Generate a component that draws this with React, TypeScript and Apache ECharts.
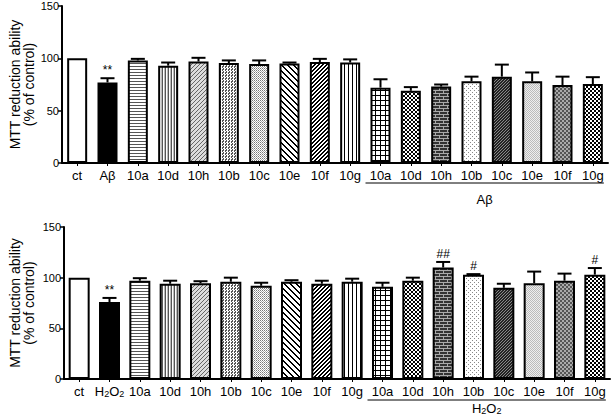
import React, { useEffect, useRef } from 'react';
import * as echarts from 'echarts';

// ---------- data ----------
const topCategories = ['ct', 'Aβ', '10a', '10d', '10h', '10b', '10c', '10e', '10f', '10g', '10a', '10d', '10h', '10b', '10c', '10e', '10f', '10g'];
const topValues = [100, 77, 98, 93, 97, 95.5, 94.5, 95, 96.5, 96, 72, 69, 73, 78, 82.5, 78, 74.5, 75.5];
const topErrors = [0, 4, 1.5, 3, 3.5, 2.5, 3.5, 1, 3, 3, 8, 3.5, 2, 4.5, 11.5, 8.5, 8, 6.5];
const topSig = ['', '**', '', '', '', '', '', '', '', '', '', '', '', '', '', '', '', ''];
const topGroupLabel = 'Aβ';

const botCategories = ['ct', 'H2O2', '10a', '10d', '10h', '10b', '10c', '10e', '10f', '10g', '10a', '10d', '10h', '10b', '10c', '10e', '10f', '10g'];
const botValues = [100, 76, 97, 94, 94.5, 96, 92, 96, 94, 96, 91, 97, 110, 103, 90, 94.5, 97, 103];
const botErrors = [0, 4, 2.5, 3, 2, 4, 3, 1.5, 3, 3, 4, 3, 5.5, 0.5, 4, 11.5, 7, 6.5];
const botSig = ['', '**', '', '', '', '', '', '', '', '', '', '', '##', '#', '', '', '', '#'];
const botGroupLabel = 'H2O2';

const groupStart = 10;
const groupEnd = 17;

const yTicks = [0, 50, 100, 150];
const yName = 'MTT reduction ability\n(% of control)';

// ---------- patterns ----------
const FONT = '"Liberation Sans", Arial, Helvetica, sans-serif';
const NARROW = '"Liberation Sans Narrow", "Liberation Sans", Arial, sans-serif';

type Pal = Record<string, string>;
function makePattern(rows: string[], pal: Pal): any {
  const h = rows.length;
  const w = rows[0].length;
  const c = document.createElement('canvas');
  c.width = w;
  c.height = h;
  const ctx = c.getContext('2d')!;
  for (let y = 0; y < h; y++) {
    for (let x = 0; x < w; x++) {
      const ch = rows[y][x];
      ctx.fillStyle = pal[ch] || '#ffffff';
      ctx.fillRect(x, y, 1, 1);
    }
  }
  return { image: c.toDataURL(), imageWidth: w, imageHeight: h, repeat: 'repeat' };
}

function buildFills(): any[] {
  const bw: Pal = { '#': '#000000', '.': '#ffffff' };
  return [
    '#ffffff',
    '#000000',
    makePattern(['#', '.', '.'], { '#': '#555555', '.': '#ffffff' }),
    makePattern(['#.g'], { '#': '#555555', '.': '#ffffff', g: '#bbbbbb' }),
    makePattern(['...#', '..#.', '.#..', '#...'], { '#': '#666666', '.': '#dddddd' }),
    makePattern(['##.', '#..', '.#.'], { '#': '#555555', '.': '#ffffff' }),
    makePattern(['#.', '.g'], { '#': '#777777', '.': '#ffffff', g: '#aaaaaa' }),
    makePattern(['##....', '.##...', '..##..', '...##.', '....##', '#....#'], bw),
    makePattern(['..##', '.##.', '##..', '#..#'], bw),
    makePattern(['#...'], bw),
    makePattern(['#####', '#....', '#....', '#....', '#....'], bw),
    makePattern(['#..#', '.##.', '.##.', '#..#'], bw),
    makePattern(['LLLLLLLL', 'DDDLDDDD', 'DDDLDDDD', 'LLLLLLLL', 'DDDDDDDL', 'DDDDDDDL'], { L: '#aaaaaa', D: '#333333' }),
    makePattern(['#...', '....', '..#.', '....'], { '#': '#888888', '.': '#ffffff' }),
    makePattern(['##.', '#.#', '.##'], { '#': '#222222', '.': '#888888' }),
    makePattern(['#.', '.#'], { '#': '#bbbbbb', '.': '#eeeeee' }),
    makePattern(['DDLL', 'DDLL', 'LLDD', 'LLDD'], { D: '#555555', L: '#aaaaaa' }),
    makePattern(['##..', '##..', '..##', '..##'], bw),
  ];
}

const richLabel = {
  n: { fontSize: 13, fontFamily: FONT, color: '#000', lineHeight: 14, verticalAlign: 'middle' },
  s: { fontSize: 9, fontFamily: FONT, color: '#000', lineHeight: 8, verticalAlign: 'bottom' },
};

function fmtCat(v: string): string {
  if (v === 'H2O2') return '{n|H}{s|2}{n|O}{s|2}';
  return '{n|' + v + '}';
}

function errorRender(sig: string[]) {
  return (params: any, api: any) => {
    const x = api.value(0);
    const v = api.value(1);
    const e = api.value(2);
    const base = api.coord([x, v]);
    const top = api.coord([x, v + e]);
    const half = 7;
    const children: any[] = [];
    if (e > 0) {
      children.push({
        type: 'line',
        shape: { x1: base[0], y1: base[1], x2: top[0], y2: top[1] },
        style: { stroke: '#000', lineWidth: 2 },
      });
      children.push({
        type: 'line',
        shape: { x1: top[0] - half, y1: top[1], x2: top[0] + half, y2: top[1] },
        style: { stroke: '#000', lineWidth: 2 },
      });
    }
    const s = sig[params.dataIndex];
    if (s) {
      children.push({
        type: 'text',
        x: top[0],
        y: top[1] - 2,
        style: {
          text: s,
          fill: '#000000',
          fontSize: 12,
          fontFamily: FONT,
          align: 'center',
          verticalAlign: 'bottom',
        },
      });
    }
    return { type: 'group', children };
  };
}

export default function App() {
  const ref = useRef<HTMLDivElement>(null);

  useEffect(() => {
    document.body.style.margin = '0';
    if (!ref.current) return;
    const chart = echarts.init(ref.current, undefined, { renderer: 'svg' });
    const fills = buildFills();

    const yAxisCommon = (gridIndex: number, gap: number) => ({
      type: 'value',
      gridIndex,
      min: 0,
      max: 150,
      interval: 50,
      name: yName,
      nameLocation: 'middle',
      nameRotate: 90,
      nameGap: gap,
      nameMoveOverlap: false,
      nameTextStyle: { fontSize: 14, lineHeight: 14, fontFamily: FONT, color: '#000' },
      axisLine: { show: true, lineStyle: { color: '#000', width: 2 } },
      axisTick: { show: true, length: 4, lineStyle: { color: '#000', width: 1.5 } },
      axisLabel: {
        fontSize: 11,
        fontFamily: NARROW,
        color: '#000',
        margin: 3,
        formatter: (v: number) => (yTicks.indexOf(v) >= 0 ? String(v) : ''),
      },
      splitLine: { show: false },
    });

    const xAxisCommon = (gridIndex: number, cats: string[]) => ({
      type: 'category',
      gridIndex,
      data: cats,
      axisLine: { show: true, lineStyle: { color: '#000', width: 2 } },
      axisTick: { show: true, alignWithLabel: true, length: 3, lineStyle: { color: '#000' } },
      axisLabel: {
        interval: 0,
        margin: 5,
        color: '#000',
        fontSize: 13,
        fontFamily: FONT,
        formatter: (v: string) => fmtCat(v),
        rich: richLabel,
      },
    });

    const barData = (vals: number[]) =>
      vals.map((v, i) => ({ value: v, itemStyle: { color: fills[i] } }));

    const errData = (vals: number[], errs: number[]) => vals.map((v, i) => [i, v, errs[i]]);

    chart.setOption({
      animation: false,
      grid: [
        { left: 62, right: 6, top: 6, height: 157 },
        { left: 52, right: 4, top: 227, height: 152 },
      ],
      xAxis: [xAxisCommon(0, topCategories), xAxisCommon(1, botCategories)],
      yAxis: [yAxisCommon(0, 26), yAxisCommon(1, 28)],
      series: [
        {
          type: 'bar',
          xAxisIndex: 0,
          yAxisIndex: 0,
          barWidth: 20,
          data: barData(topValues),
          itemStyle: { borderColor: '#000', borderWidth: 2 },
          z: 2,
        },
        {
          type: 'custom',
          xAxisIndex: 0,
          yAxisIndex: 0,
          data: errData(topValues, topErrors),
          encode: { x: 0, y: 1 },
          itemStyle: { color: '#000' },
          renderItem: errorRender(topSig),
          z: 3,
        },
        {
          type: 'bar',
          xAxisIndex: 1,
          yAxisIndex: 1,
          barWidth: 21,
          data: barData(botValues),
          itemStyle: { borderColor: '#000', borderWidth: 2 },
          z: 2,
        },
        {
          type: 'custom',
          xAxisIndex: 1,
          yAxisIndex: 1,
          data: errData(botValues, botErrors),
          encode: { x: 0, y: 1 },
          itemStyle: { color: '#000' },
          renderItem: errorRender(botSig),
          z: 3,
        },
      ],
    });

    const groupGraphic = (gridIndex: number, label: string, lineOff: number, textOff: number) => {
      const a = chart.convertToPixel({ gridIndex } as any, [groupStart, 0]) as number[];
      const b = chart.convertToPixel({ gridIndex } as any, [groupEnd, 0]) as number[];
      const y = a[1];
      const isH = label === 'H2O2';
      return [
        {
          type: 'line',
          shape: { x1: a[0] - 15, y1: y + lineOff, x2: b[0] + 11, y2: y + lineOff },
          style: { stroke: '#000', lineWidth: 1 },
        },
        {
          type: 'text',
          x: (a[0] - 15 + b[0] + 11) / 2,
          y: y + textOff,
          style: {
            text: isH ? '{n|H}{s|2}{n|O}{s|2}' : label,
            rich: richLabel,
            fontSize: 13,
            fontFamily: FONT,
            fill: '#000',
            align: 'center',
            verticalAlign: 'middle',
          },
        },
      ];
    };

    chart.setOption({
      graphic: [
        ...groupGraphic(0, topGroupLabel, 20, 36),
        ...groupGraphic(1, botGroupLabel, 21, 29),
      ],
    });

    return () => chart.dispose();
  }, []);

  return <div ref={ref} style={{ width: 614, height: 417 }} />;
}
